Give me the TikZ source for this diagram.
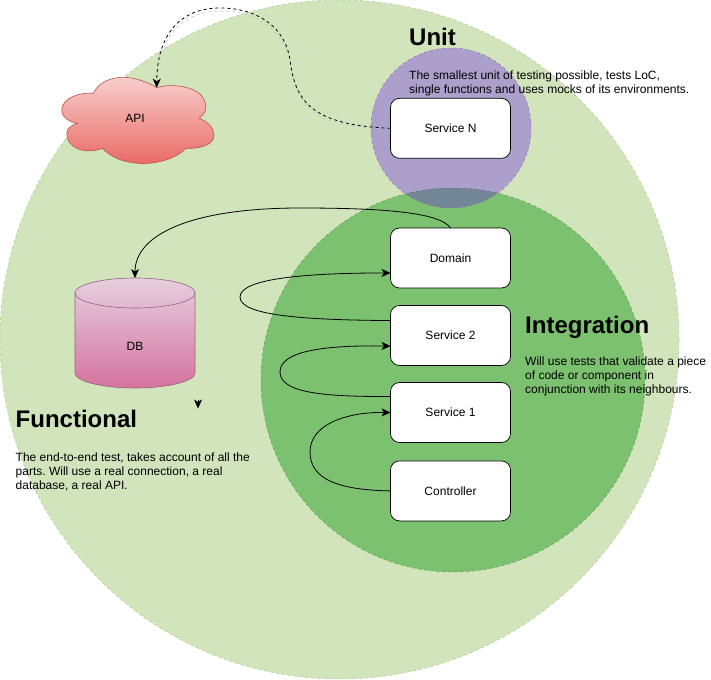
\documentclass[tikz,border=0pt]{standalone}
\usepackage{fontspec}
\setmainfont{Liberation Sans}
\frenchspacing
\usetikzlibrary{positioning,arrows.meta}
\definecolor{cfunc}{HTML}{D1E4BB}
\definecolor{cfuncline}{HTML}{A9C98F}
\definecolor{cinteg}{HTML}{7CC170}
\definecolor{cintegline}{HTML}{5C9E52}
\definecolor{cunit}{HTML}{5C00F0}
\definecolor{cunitline}{HTML}{8A74B0}
\definecolor{capi}{HTML}{B85450}
\definecolor{capitop}{HTML}{F8CECC}
\definecolor{capibot}{HTML}{EA6B66}
\definecolor{cdb}{HTML}{996185}
\definecolor{cdbtop}{HTML}{E6D0DE}
\definecolor{cdbbot}{HTML}{D5739D}
\begin{document}
\begin{tikzpicture}[
  x=1pt, y=-1pt,
  >={Stealth[length=9pt,width=8pt,inset=2.5pt]},
  node distance=17pt,
  zone/.style={circle, inner sep=0pt, outer sep=0pt, dashed, line width=0.5pt},
  box/.style={draw, rounded corners=9pt, fill=white, align=center, outer sep=0pt, line width=0.7pt, minimum width=120pt, minimum height=60pt, font=\fontsize{12}{14}\selectfont},
  lbl/.style={inner sep=0pt, font=\fontsize{12}{14}\selectfont},
  ttl/.style={anchor=base west, inner sep=0pt, font=\fontsize{24}{28}\selectfont\bfseries},
  descr/.style={align=left, inner sep=0pt, font=\fontsize{12}{14}\selectfont},
  arr/.style={->, line width=0.8pt}
]
  \useasboundingbox (0,0) rectangle (711,679);

  % test scopes
  \node[zone, draw=cfuncline, fill=cfunc, minimum size=679pt] (functional) at (339.5,339.5) {};
  \node[zone, draw=cintegline, fill=cinteg, minimum size=384pt] (integration) at (453,380) {};
  \node[zone, draw=cunitline, fill=cunit, fill opacity=0.3, minimum size=160pt] (unit) at (451,128) {};

  % API cloud
  \path[draw=capi, line width=0.6pt, top color=capitop, bottom color=capibot]
    (156.7,87.7) .. controls (170,83) and (205,85) .. (205.7,106.7)
    .. controls (206,112) and (203,115) .. (199.3,118.3)
    .. controls (208,122) and (214,128) .. (214,135)
    .. controls (214,145) and (200,149) .. (185.7,148.3)
    .. controls (175,160) and (155,163.5) .. (143.3,163.5)
    .. controls (125,163.5) and (110,157) .. (102.7,148.3)
    .. controls (85,155) and (66.5,148) .. (66.7,133.3)
    .. controls (66.7,129) and (71,125) .. (77.3,123.3)
    .. controls (68,122) and (61.5,116) .. (61.7,110)
    .. controls (62,98) and (80,92) .. (93.3,93.3)
    .. controls (98,83) and (110,77.3) .. (123.3,77.3)
    .. controls (135,77.3) and (150,83) .. cycle;
  \node[lbl] (api) at (135,118) {API};
  \coordinate (apitop) at (156.7,87.7);

  % DB cylinder
  \path[draw=cdb, line width=0.6pt, top color=cdbtop, bottom color=cdbbot]
    (75,293) arc[start angle=180, end angle=360, x radius=60, y radius=15]
    -- (195,373) arc[start angle=0, end angle=180, x radius=60, y radius=15] -- cycle;
  \draw[cdb, line width=0.6pt] (195,293) arc[start angle=0, end angle=180, x radius=60, y radius=15];
  \node[lbl] (db) at (135,346.5) {DB};
  \coordinate (dbtop) at (135,278);

  % services
  \node[box] (svcn) at (450.5,128.3) {Service N};
  \node[box] (domain) at (450.5,258) {Domain};
  \node[box, below=17.5pt of domain] (svctwo) {Service 2};
  \node[box, below=of svctwo] (svcone) {Service 1};
  \node[box, below=18.4pt of svcone] (ctrl) {Controller};

  % calls
  \draw[arr] (ctrl.west) .. controls (340,490) and (310,480) .. (310,452) .. controls (310,425) and (345,412) .. (svcone.west);
  \draw[arr] (svcone.165) .. controls (320,397) and (280,392) .. (280,372) .. controls (280,352) and (320,345) .. (svctwo.190);
  \draw[arr] (svctwo.166) .. controls (300,320) and (240,315) .. (240,297) .. controls (240,278) and (310,273) .. (domain.194);
  \draw[arr] (domain.north) .. controls (440,212) and (380,208) .. (300,208) .. controls (190,208) and (135,235) .. (dbtop);
  \draw[line width=0.7pt, dashed, gray!45] (svcn.west) .. controls (310,128) and (297,105) .. (291,65) .. controls (285,30) and (255,11) .. (222,11) .. controls (178,11) and (158,40) .. (apitop);
  \draw[arr, dashed] (svcn.west) .. controls (310,125) and (295,100) .. (290,60) .. controls (285,25) and (255,8) .. (220,8) .. controls (180,8) and (157,35) .. (apitop);

  % stray tip
  \coordinate (tipfrom) at (198,400);
  \coordinate (tipto) at (198,408.5);
  \draw[arr] (tipfrom) -- (tipto);

  % texts
  \node[ttl] (unitttl) at (409,45.3) {Unit};
  \node[descr, below=25pt of unitttl.south west, anchor=north west] (unitdescr) {The smallest unit of testing possible, tests LoC,\\single functions and uses mocks of its environments.};
  \node[ttl] (integttl) at (525,333) {Integration};
  \node[descr, below=18.4pt of integttl.south west, anchor=north west] (integdescr) {Will use tests that validate a piece\\of code or component in\\conjunction with its neighbours.};
  \node[ttl] (functtl) at (15.5,427.3) {Functional};
  \node[descr, below=25pt of functtl.south west, anchor=north west] (funcdescr) {The end-to-end test, takes account of all the\\parts. Will use a real connection, a real\\database, a real API.};
\end{tikzpicture}
\end{document}
